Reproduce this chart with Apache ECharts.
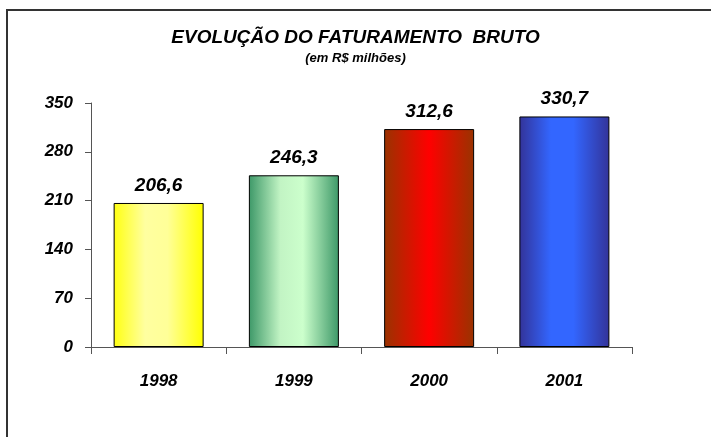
<!DOCTYPE html>
<html>
<head>
<meta charset="utf-8">
<script src="https://cdn.jsdelivr.net/npm/echarts@6/dist/echarts.min.js"></script>
<style>
html,body{margin:0;padding:0;background:#fff;}
#chart{width:711px;height:437px;}
</style>
</head>
<body>
<div id="chart"></div>
<script>
const categories = ['1998', '1999', '2000', '2001'];
const values = [206.6, 246.3, 312.6, 330.7];
const yTicks = [0, 70, 140, 210, 280, 350];
const titleText = 'EVOLUÇÃO DO FATURAMENTO  BRUTO';
const subtitleText = '(em R$ milhões)';

const FONT = '"Liberation Sans", Arial, sans-serif';
function grad(stops) {
  return new echarts.graphic.LinearGradient(0, 0, 1, 0, stops.map(s => ({offset: s[0], color: s[1]})));
}
const fills = [
  grad([[0, '#ffff10'], [0.35, '#ffffa0'], [0.6, '#ffff98'], [1, '#ffff00']]),
  grad([[0, '#3d9868'], [0.35, '#c2f4c4'], [0.6, '#ccffcc'], [1, '#3d9868']]),
  grad([[0, '#993300'], [0.5, '#ff0000'], [1, '#993300']]),
  grad([[0, '#333399'], [0.35, '#3366ff'], [0.6, '#3366ff'], [1, '#333399']])
];

const chart = echarts.init(document.getElementById('chart'), null, {renderer: 'canvas'});
chart.setOption({
  animation: false,
  backgroundColor: '#ffffff',
  graphic: [{
    type: 'rect',
    shape: {x: 7, y: 10, width: 740, height: 460},
    style: {fill: 'none', stroke: '#333333', lineWidth: 2},
    silent: true
  }],
  title: {
    text: titleText,
    subtext: subtitleText,
    left: 'center',
    top: 23,
    itemGap: 5,
    textStyle: {fontFamily: FONT, fontSize: 19, fontWeight: 'bold', fontStyle: 'italic', color: '#000'},
    subtextStyle: {fontFamily: FONT, fontSize: 13, fontWeight: 'bold', fontStyle: 'italic', color: '#000'}
  },
  grid: {left: 91, right: 79, top: 103, bottom: 90, containLabel: false},
  xAxis: {
    type: 'category',
    data: categories,
    axisLine: {lineStyle: {color: '#555', width: 1}},
    axisTick: {show: true, length: 7, lineStyle: {color: '#555'}},
    axisLabel: {margin: 26, color: '#000', fontFamily: FONT, fontSize: 17, fontWeight: 'bold', fontStyle: 'italic'}
  },
  yAxis: {
    type: 'value',
    min: yTicks[0],
    max: yTicks[yTicks.length - 1],
    interval: yTicks[1] - yTicks[0],
    axisLine: {show: true, lineStyle: {color: '#555', width: 1}},
    axisTick: {show: true, length: 6, lineStyle: {color: '#555'}},
    splitLine: {show: false},
    axisLabel: {margin: 18, color: '#000', fontFamily: FONT, fontSize: 17, fontWeight: 'bold', fontStyle: 'italic'}
  },
  series: [{
    type: 'bar',
    barWidth: 90,
    data: values.map((v, i) => ({
      value: v,
      itemStyle: {color: fills[i], borderColor: '#000', borderWidth: 1}
    })),
    label: {
      show: true,
      position: 'top',
      distance: 8,
      formatter: p => p.value.toFixed(1).replace('.', ','),
      color: '#000',
      fontFamily: FONT,
      fontSize: 19,
      fontWeight: 'bold',
      fontStyle: 'italic'
    }
  }]
});
</script>
</body>
</html>
